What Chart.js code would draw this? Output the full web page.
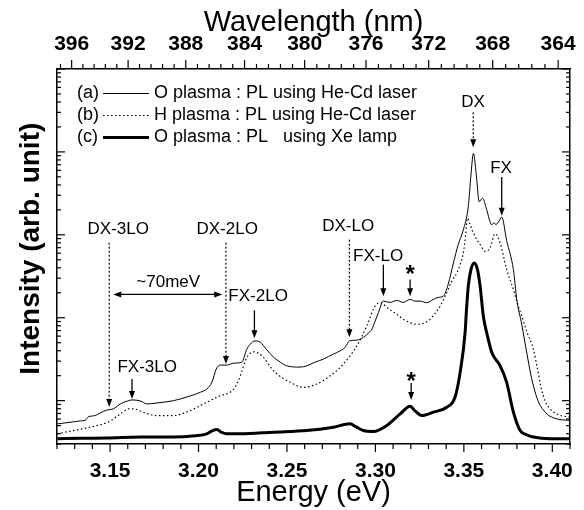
<!DOCTYPE html>
<html lang="en">
<head>
  <meta charset="UTF-8" />
  <title>PL spectra</title>
  <script src="https://cdn.jsdelivr.net/npm/chart.js"></script>
  <style>
    body { margin: 0; background: #fff; }
    canvas { display: block; }
  </style>
</head>
<body>
  <canvas id="plChart" width="584" height="510"></canvas>

  <script>
    const FONT = "'Liberation Sans', Arial, sans-serif";

    // (a) O plasma : PL using He-Cd laser
    const energyA = [3.1202, 3.1249, 3.1292, 3.1332, 3.1360, 3.1377, 3.1416, 3.1445, 3.1484, 3.1518,
      3.1558, 3.1599, 3.1624, 3.1671, 3.1708, 3.1765, 3.1859, 3.1953, 3.2010, 3.2047,
      3.2076, 3.2100, 3.2123, 3.2160, 3.2200, 3.2245, 3.2273, 3.2292, 3.2320, 3.2349,
      3.2383, 3.2424, 3.2462, 3.2499, 3.2575, 3.2612, 3.2659, 3.2706, 3.2761, 3.2801,
      3.2829, 3.2853, 3.2891, 3.2932, 3.2959, 3.2980, 3.2998, 3.3017, 3.3045, 3.3083,
      3.3121, 3.3157, 3.3196, 3.3224, 3.3253, 3.3290, 3.3328, 3.3354, 3.3384, 3.3411,
      3.3441, 3.3468, 3.3497, 3.3525, 3.3540, 3.3554, 3.3573, 3.3586, 3.3606, 3.3629,
      3.3658, 3.3671, 3.3680, 3.3695, 3.3714, 3.3742, 3.3780, 3.3799, 3.3827, 3.3857,
      3.3878, 3.3901, 3.3924, 3.3949, 3.3976, 3.4015, 3.4055, 3.4097];
    const intensityA = [0.525, 0.54, 0.555, 0.57, 0.58, 0.637, 0.661, 0.712, 0.773, 0.795,
      0.913, 0.992, 1.02, 0.992, 0.913, 0.938, 1.0, 1.139, 1.261, 1.382,
      1.677, 2.402, 2.683, 2.683, 2.835, 2.915, 4.174, 4.795, 5.253, 5.067,
      4.174, 3.347, 2.915, 2.632, 2.539, 2.632, 2.915, 3.167, 3.636, 3.984,
      4.41, 5.253, 5.356, 5.769, 6.497, 7.256, 9.05, 11.51, 15.87, 15.30,
      16.18, 15.30, 16.63, 15.87, 15.87, 15.18, 16.63, 17.58, 18.22, 25.18,
      45.86, 76.06, 115.1, 219.2, 526.6, 959.4, 458.6, 251.8, 276.6, 200.1,
      132.2, 140, 133, 142, 163.6, 85, 38.11, 16.63, 8.33, 3.636,
      2.092, 1.307, 0.938, 0.773, 0.673, 0.611, 0.587, 0.58];

    // (b) H plasma : PL using He-Cd laser
    const energyB = [3.1202, 3.1292, 3.1388, 3.1495, 3.1558, 3.1605, 3.1637, 3.1671, 3.1765, 3.1859,
      3.1953, 3.2047, 3.2123, 3.2179, 3.2207, 3.2236, 3.2273, 3.2311, 3.2337, 3.2367,
      3.2424, 3.2518, 3.2593, 3.2669, 3.2744, 3.2801, 3.2895, 3.2951, 3.2998, 3.3027,
      3.3072, 3.3121, 3.3168, 3.3234, 3.3269, 3.3309, 3.3337, 3.3366, 3.3403, 3.3428,
      3.3460, 3.3479, 3.3497, 3.3510, 3.3520, 3.3536, 3.3554, 3.3573, 3.3592, 3.3620,
      3.3648, 3.3676, 3.3705, 3.3742, 3.3780, 3.3801, 3.3827, 3.3857, 3.3893, 3.3914,
      3.3936, 3.3959, 3.3987, 3.4025, 3.4055, 3.4097];
    const intensityB = [0.398, 0.436, 0.479, 0.560, 0.692, 0.795, 0.795, 0.746, 0.661, 0.661,
      0.759, 0.957, 1.148, 1.261, 1.46, 1.995, 3.319, 3.875, 3.74, 3.319,
      2.292, 1.663, 1.448, 1.587, 1.995, 2.518, 4.574, 7.951, 13.82, 15.18,
      12.97, 10.98, 9.31, 8.33, 8.566, 9.568, 11.29, 13.82, 20.01, 26.6,
      34.78, 43.76, 60.46, 100.3, 159.1, 132.2, 105.1, 87.35, 76.06, 63.19,
      69.41, 103.1, 79.72, 38.11, 21.93, 15.30, 10.48, 6.68, 4.174, 2.539,
      1.46, 0.992, 0.795, 0.692, 0.655, 0.637];

    // (c) O plasma : PL using Xe lamp
    const energyC = [3.1202, 3.1332, 3.1482, 3.1671, 3.1859, 3.1981, 3.2047, 3.2077, 3.2104, 3.2128,
      3.2160, 3.2236, 3.2424, 3.2612, 3.2763, 3.2857, 3.2891, 3.2932, 3.2989, 3.3064,
      3.3140, 3.3196, 3.3224, 3.3262, 3.3328, 3.3403, 3.3450, 3.3479, 3.3507, 3.3515,
      3.3525, 3.3540, 3.3559, 3.3577, 3.3592, 3.3610, 3.3629, 3.3658, 3.3705, 3.3742,
      3.3780, 3.3818, 3.3855, 3.3893, 3.3987, 3.4097];
    const intensityC = [0.347, 0.352, 0.354, 0.364, 0.364, 0.377, 0.398, 0.433, 0.449, 0.417,
      0.398, 0.398, 0.417, 0.436, 0.479, 0.525, 0.483, 0.436, 0.4245, 0.501,
      0.692, 0.857, 0.752, 0.661, 0.726, 0.833, 1.099, 2.193, 6.624, 12.61,
      24.02, 38.11, 45.86, 38.11, 24.02, 10.48, 6.624, 3.811, 2.632, 1.663,
      0.726, 0.436, 0.388, 0.364, 0.347, 0.347];

    const SERIES_TAGS = ['(a)', '(b)', '(c)'];
    const SERIES_LABELS = ['O plasma : PL using He-Cd laser', 'H plasma : PL using He-Cd laser', 'O plasma : PL   using Xe lamp'];

    const ENERGY_TICKS = [3.15, 3.20, 3.25, 3.30, 3.35, 3.40];
    const WAVE_TICKS = [396, 392, 388, 384, 380, 376, 372, 368, 364];
    const HC = 1238.8; // nm*eV, top axis conversion

    // peak labels: text, energy, intensity
    const PEAK_TEXT = [
      ['DX', 3.3552, 3963], ['FX', 3.3710, 639], ['DX-3LO', 3.1546, 115], ['DX-2LO', 3.2162, 115],
      ['DX-LO', 3.2846, 125], ['FX-LO', 3.3015, 54.6], ['~70meV', 3.1829, 26.6],
      ['FX-2LO', 3.2337, 18.1], ['FX-3LO', 3.1710, 2.54]
    ];
    const STAR_TEXT = [[3.3196, 32.3], [3.3202, 1.68]];
    // arrows: energy, from intensity, to intensity, dotted
    const PEAK_ARROWS = [
      [3.3553, 3006, 1142, true], [3.3714, 498, 170, false], [3.1495, 80.4, 0.84, true],
      [3.2155, 80.4, 2.76, true], [3.2853, 87.4, 5.82, true], [3.3045, 43.8, 18.1, false],
      [3.3196, 28.9, 18.1, false], [3.2316, 12.3, 5.66, false], [3.1624, 1.82, 1.05, false],
      [3.3202, 1.63, 1.02, false]
    ];
    const SPAN_ARROW = [3.1518, 3.2134, 19.1];

    const styles = [
      { width: 1, dash: [] },
      { width: 1.2, dash: [1.5, 2.5] },
      { width: 3, dash: [] }
    ];
    const sets = [[energyA, intensityA], [energyB, intensityB], [energyC, intensityC]];

    function seg(ctx, x1, y1, x2, y2) {
      ctx.beginPath(); ctx.moveTo(x1, y1); ctx.lineTo(x2, y2); ctx.stroke();
    }
    function head(ctx, x, y, dx, dy) {
      // arrow tip at (x,y), pointing along (dx,dy)
      const L = 8, W = 3;
      ctx.beginPath();
      ctx.moveTo(x, y);
      ctx.lineTo(x - dx * L - dy * W, y - dy * L + dx * W);
      ctx.lineTo(x - dx * L + dy * W, y - dy * L - dx * W);
      ctx.closePath(); ctx.fill();
    }

    const decorations = {
      id: 'decorations',
      afterDraw(chart) {
        const { ctx, chartArea: a, scales } = chart;
        const sx = scales.x, sy = scales.y;
        ctx.save();
        ctx.strokeStyle = '#000'; ctx.fillStyle = '#000'; ctx.lineWidth = 1.2;

        // bottom ticks, outward
        for (let k = 312; k <= 341; k++) {
          const px = sx.getPixelForValue(k / 100);
          if (px < a.left - 0.5 || px > a.right + 0.5) continue;
          seg(ctx, px, a.bottom, px, a.bottom + (k % 5 === 0 ? 8 : 5));
        }
        // top ticks (wavelength), outward
        for (let m = 0; m <= 46; m++) {
          const wt = 3976 - 8 * m;
          const px = sx.getPixelForValue(HC / (wt / 10));
          if (px < a.left - 0.5 || px > a.right + 0.5) continue;
          seg(ctx, px, a.top, px, a.top - (wt % 40 === 0 ? 9 : 5));
        }
        // log ticks on both sides, inward
        for (let d = -1; d <= 4; d++) {
          for (let k = 1; k <= 9; k++) {
            const v = k * Math.pow(10, d);
            if (v < sy.min || v > sy.max) continue;
            const py = sy.getPixelForValue(v);
            const len = k === 1 ? 8 : 4;
            seg(ctx, a.left, py, a.left + len, py);
            seg(ctx, a.right, py, a.right - len, py);
          }
        }

        // legend
        ctx.font = '18px ' + FONT;
        ctx.textBaseline = 'middle';
        ctx.textAlign = 'left';
        SERIES_TAGS.forEach((tag, i) => {
          const ly = a.top + 24.5 + 22 * i;
          ctx.fillText(tag, a.left + 20, ly);
          ctx.save();
          ctx.lineWidth = styles[i].width;
          ctx.setLineDash(styles[i].dash);
          seg(ctx, a.left + 46, ly, a.left + 92, ly);
          ctx.restore();
          ctx.fillText(SERIES_LABELS[i], a.left + 97, ly);
        });

        // peak labels
        ctx.textAlign = 'center';
        ctx.font = '17px ' + FONT;
        PEAK_TEXT.forEach(([t, e, v]) => ctx.fillText(t, sx.getPixelForValue(e), sy.getPixelForValue(v)));
        ctx.font = 'bold 24px ' + FONT;
        STAR_TEXT.forEach(([e, v]) => ctx.fillText('*', sx.getPixelForValue(e), sy.getPixelForValue(v)));

        // arrows
        PEAK_ARROWS.forEach(([e, v1, v2, dotted]) => {
          const px = sx.getPixelForValue(e);
          const y1 = sy.getPixelForValue(v1), y2 = sy.getPixelForValue(v2);
          ctx.save();
          ctx.lineWidth = dotted ? 1.2 : 1.3;
          if (dotted) ctx.setLineDash([2, 2]);
          seg(ctx, px, y1, px, y2 - 6);
          ctx.restore();
          head(ctx, px, y2, 0, 1);
        });
        const [e1, e2, v] = SPAN_ARROW;
        const hx1 = sx.getPixelForValue(e1), hx2 = sx.getPixelForValue(e2), hy = sy.getPixelForValue(v);
        ctx.lineWidth = 1.3;
        seg(ctx, hx1 + 6, hy, hx2 - 6, hy);
        head(ctx, hx1, hy, -1, 0);
        head(ctx, hx2, hy, 1, 0);
        ctx.restore();
      }
    };

    const tickFont = { family: FONT, size: 21, weight: 'bold' };

    new Chart(document.getElementById('plChart'), {
      type: 'line',
      data: {
        datasets: sets.map(([en, inten], i) => ({
          label: SERIES_LABELS[i],
          data: en.map((e, k) => ({ x: e, y: inten[k] })),
          borderColor: '#000',
          borderWidth: styles[i].width,
          borderDash: styles[i].dash,
          pointRadius: 0,
          fill: false,
          cubicInterpolationMode: 'monotone'
        }))
      },
      options: {
        responsive: false,
        animation: false,
        layout: { padding: 0 },
        plugins: { legend: { display: false }, tooltip: { enabled: false } },
        scales: {
          x: {
            type: 'linear', position: 'bottom', min: 3.12, max: 3.41,
            afterBuildTicks: s => { s.ticks = ENERGY_TICKS.map(v => ({ value: v })); },
            afterFit: s => { s.height = 66; },
            ticks: { font: tickFont, color: '#000', padding: 7, maxRotation: 0, autoSkip: false,
              callback: v => v.toFixed(2) },
            grid: { display: false },
            border: { display: true, color: '#000', width: 1.5 },
            title: { display: true, text: 'Energy (eV)', color: '#000',
              font: { family: FONT, size: 29 }, padding: { top: 0, bottom: 0 } }
          },
          x2: {
            type: 'linear', position: 'top', min: 3.12, max: 3.41,
            afterBuildTicks: s => { s.ticks = WAVE_TICKS.map(w => ({ value: HC / w })); },
            afterFit: s => { s.height = 69; },
            ticks: { font: tickFont, color: '#000', padding: 4, maxRotation: 0, autoSkip: false,
              callback: (v, i) => String(WAVE_TICKS[i]) },
            grid: { display: false },
            border: { display: true, color: '#000', width: 1.5 },
            title: { display: true, text: 'Wavelength (nm)', color: '#000',
              font: { family: FONT, size: 29 }, padding: { top: 6, bottom: 0 } }
          },
          y: {
            type: 'logarithmic', position: 'left', min: 0.31, max: 10000,
            afterFit: s => { s.width = 57; },
            ticks: { display: false },
            grid: { display: false },
            border: { display: true, color: '#000', width: 1.5 },
            // leading spaces nudge the rotated title a little above the axis centre
            title: { display: true, text: '  Intensity (arb. unit)', color: '#000',
              font: { family: FONT, size: 28, weight: 'bold' }, padding: { top: 14, bottom: 0 } }
          },
          y2: {
            type: 'logarithmic', position: 'right', min: 0.31, max: 10000,
            afterFit: s => { s.width = 14; },
            ticks: { display: false },
            grid: { display: false },
            border: { display: true, color: '#000', width: 1.5 }
          }
        }
      },
      plugins: [decorations]
    });
  </script>
</body>
</html>
